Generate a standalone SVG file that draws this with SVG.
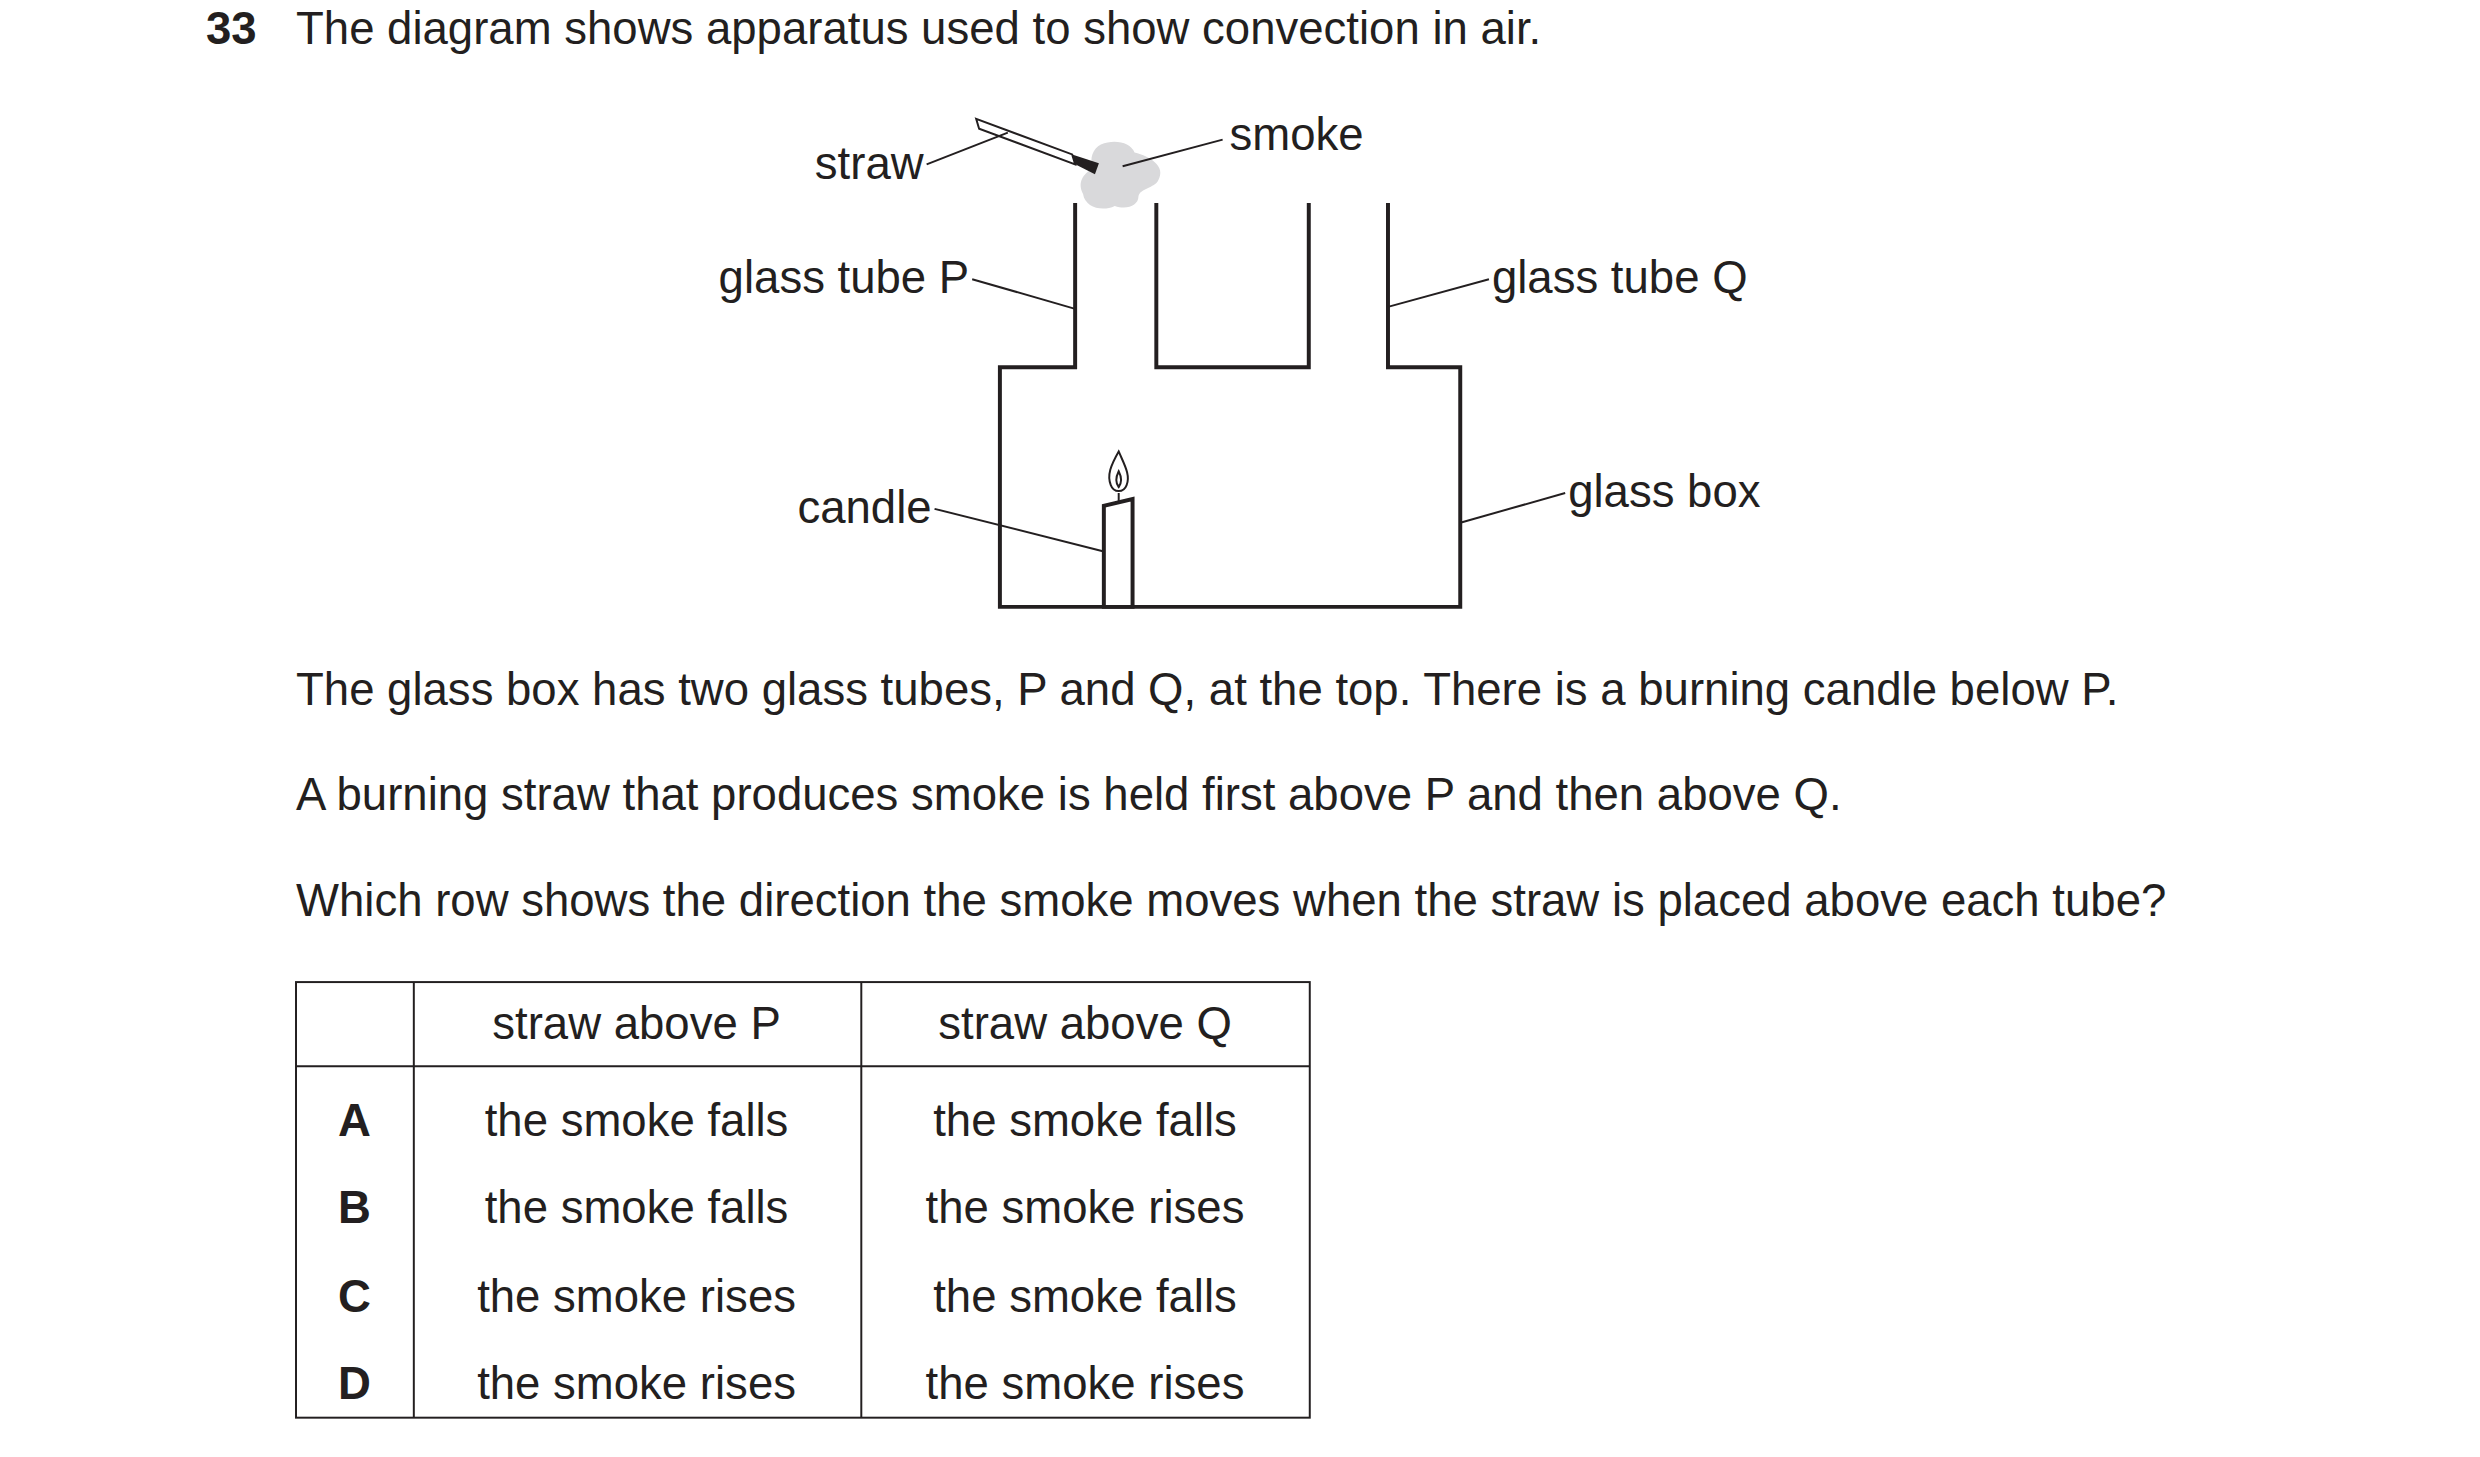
<svg xmlns="http://www.w3.org/2000/svg" width="2480" height="1457" viewBox="0 0 2480 1457">
<style>
text{font-family:"Liberation Sans",Arial,sans-serif;font-size:46px;fill:#231f20}
.b{font-weight:bold}
.m{text-anchor:middle}
.e{text-anchor:end}
.ln{stroke:#231f20;stroke-width:2;fill:none}
.w{stroke:#231f20;stroke-width:4;fill:none}
</style>
<rect width="2480" height="1457" fill="#fff"/>
<g transform="scale(0.99)">
<text x="208" y="44" class="b">33</text>
<text x="299" y="44">The diagram shows apparatus used to show convection in air.</text>
<g id="box"><path class="w" d="M1086,205 V371 H1010 V613 H1475 V371 H1402 V205 M1168,205 V371 H1322 V205"/></g>
<g id="candle"><path class="w" d="M1115,613 V511 L1144,504 V613 Z" fill="#fff"/>
<path class="ln" d="M1130,456 C1122,470 1118,480 1122,490 C1125,498 1135,498 1138,490 C1142,480 1136,470 1130,456 Z M1130,476 C1127,482 1127,488 1130,492 C1133,488 1133,482 1130,476 Z"/>
<line class="ln" x1="1130" y1="498" x2="1130" y2="507"/></g>
<g id="smoke"><path fill="#d9d9db" d="M1112,146 C1126,140 1142,144 1146,154 C1162,158 1178,168 1170,182 C1166,190 1152,190 1150,198 C1150,208 1138,212 1126,208 C1114,214 1096,210 1094,196 C1088,184 1094,176 1104,170 C1100,160 1104,150 1112,146 Z"/></g>
<g id="straw"><path class="ln" d="M986,120 L989,130 L1086,166 L1083,156 Z" fill="#fff"/><path d="M1083,156 L1110,165 L1106,176 L1086,166 Z" fill="#231f20"/></g>
<g id="labels">
<text x="933" y="181" class="e">straw</text>
<text x="1242" y="152">smoke</text>
<text x="979" y="296" class="e">glass tube P</text>
<text x="1507" y="296">glass tube Q</text>
<text x="941" y="528" class="e">candle</text>
<text x="1584" y="512">glass box</text>
</g>
<g id="connectors" class="ln">
<line x1="936" y1="166" x2="1018" y2="134"/>
<line x1="1134" y1="168" x2="1235" y2="141"/>
<line x1="982" y1="282" x2="1086" y2="312"/>
<line x1="1402" y1="310" x2="1504" y2="282"/>
<line x1="944" y1="514" x2="1115" y2="557"/>
<line x1="1475" y1="528" x2="1581" y2="498"/>
</g>
<text x="299" y="712">The glass box has two glass tubes, P and Q, at the top. There is a burning candle below P.</text>
<text x="299" y="818">A burning straw that produces smoke is held first above P and then above Q.</text>
<text x="299" y="925">Which row shows the direction the smoke moves when the straw is placed above each tube?</text>
<g id="table">
<rect class="ln" x="299" y="992" width="1024" height="440"/>
<line class="ln" x1="418" y1="992" x2="418" y2="1432"/>
<line class="ln" x1="870" y1="992" x2="870" y2="1432"/>
<line class="ln" x1="299" y1="1077" x2="1323" y2="1077"/>
<text x="643" y="1050" class="m">straw above P</text><text x="1096" y="1050" class="m">straw above Q</text>
<text x="358" y="1147" class="m b">A</text><text x="643" y="1147" class="m">the smoke falls</text><text x="1096" y="1147" class="m">the smoke falls</text>
<text x="358" y="1235" class="m b">B</text><text x="643" y="1235" class="m">the smoke falls</text><text x="1096" y="1235" class="m">the smoke rises</text>
<text x="358" y="1325" class="m b">C</text><text x="643" y="1325" class="m">the smoke rises</text><text x="1096" y="1325" class="m">the smoke falls</text>
<text x="358" y="1413" class="m b">D</text><text x="643" y="1413" class="m">the smoke rises</text><text x="1096" y="1413" class="m">the smoke rises</text>
</g>
</g>
</svg>
